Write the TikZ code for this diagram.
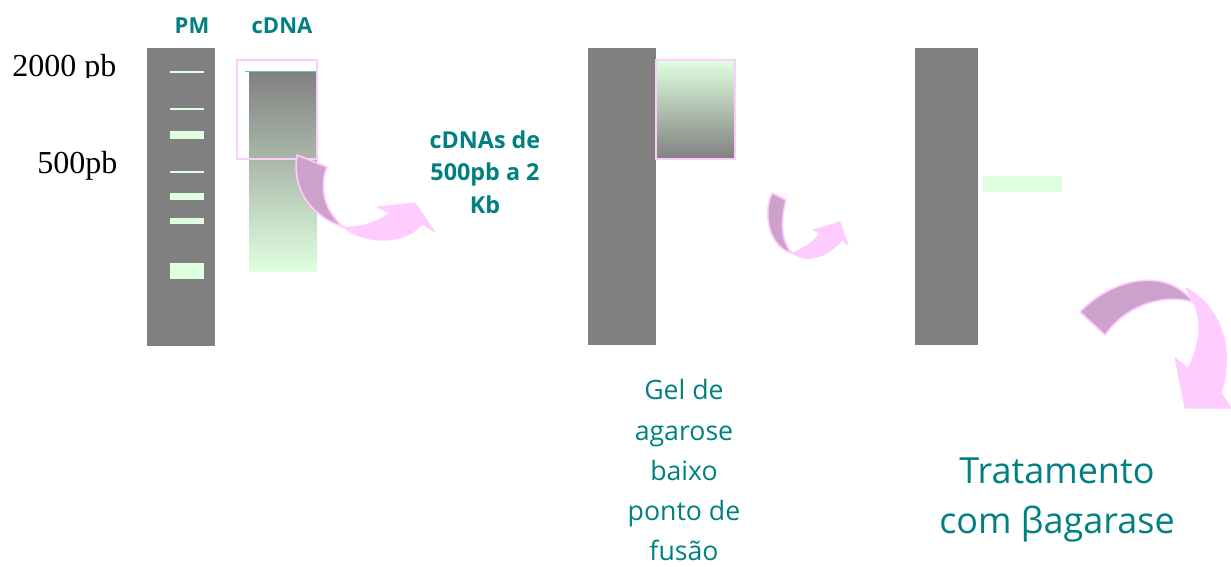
\documentclass[tikz,border=0pt]{standalone}
\usepackage{fontspec}
\setmainfont{Open Sans}
\newfontfamily\timesfont{Liberation Serif}
\definecolor{gelgray}{HTML}{808080}
\definecolor{bandgreen}{HTML}{E0FFE0}
\definecolor{ribbonpink}{HTML}{FFCCFF}
\definecolor{ribbonmauve}{HTML}{CCA2CC}
\definecolor{labelteal}{HTML}{008080}
\tikzset{
  lane/.style={fill=gelgray, draw=none},
  band/.style={fill=bandgreen, draw=none},
  bandline/.style={draw=bandgreen, line width=1.4pt},
  cutbox/.style={draw=ribbonpink, line width=1.5pt},
  ribbonfront/.style={fill=ribbonpink, draw=ribbonpink, line width=0.75pt, line join=round},
  ribbonback/.style={fill=ribbonmauve, draw=ribbonpink, line width=1.2pt, line join=round},
  lanelabel/.style={font=\bfseries\fontsize{16.5}{20}\selectfont, text=labelteal, anchor=base, inner sep=0pt},
  sizelabel/.style={font=\timesfont\fontsize{24}{28}\selectfont, text=black, anchor=base west, inner sep=0pt},
  steptext/.style={font=\bfseries\fontsize{17.5}{21}\selectfont, text=labelteal, anchor=base, inner sep=0pt},
  geltext/.style={font=\fontsize{20}{24}\selectfont, text=labelteal, anchor=base, inner sep=0pt},
  bigtext/.style={font=\fontsize{27}{33}\selectfont, text=labelteal, anchor=base, inner sep=0pt},
}
\begin{document}
\begin{tikzpicture}[x=0.75pt,y=-0.75pt]
\useasboundingbox (0,0) rectangle (1231,567);

% ---- first gel: marker lane and cDNA lane ----
\node[lanelabel] (pm) at (192,34) {PM};
\node[lanelabel] (cdna) at (282,34) {cDNA};

\begin{scope}
  \clip (0,40) rectangle (140,78);
  \node[sizelabel] (s2000) at (12,77) {2000 pb};
\end{scope}
\node[sizelabel] (s500) at (37,173) {500pb};

\fill[lane] (147,48) rectangle (215,346);
% marker bands
\draw[bandline] (170,72) -- (204,72);
\draw[bandline] (170,109) -- (204,109);
\fill[band] (170,131) rectangle (204,139);
\draw[bandline] (170,172) -- (204,172);
\fill[band] (170,193) rectangle (204,200);
\fill[band] (170,218) rectangle (204,224);
\fill[band] (170,263) rectangle (204,279);

% cDNA smear
\shade[top color=gelgray, bottom color=bandgreen] (249,72) rectangle (317,271);
\draw[labelteal!55, line width=0.75pt] (245,72) -- (317,72);
% excised region
\draw[cutbox] (237,60) rectangle (317,159);

% curved arrow 1
\path[ribbonfront] (343,227) .. controls (360,228) and (378,222) .. (390,213)
  -- (377,207) -- (415,203) -- (435,232) -- (422,224)
  .. controls (405,245) and (365,245) .. (343,227) -- cycle;
\path[ribbonback] (297,155) -- (327,167) .. controls (320,185) and (322,208) .. (343,227)
  .. controls (310,215) and (292,190) .. (297,155) -- cycle;

\node[steptext] (t1a) at (485,148) {cDNAs de};
\node[steptext] (t1b) at (485,180) {500pb a 2};
\node[steptext] (t1c) at (485,213) {Kb};

% ---- second gel: excised block ----
\fill[lane] (588,48) rectangle (656,345);
\shade[top color=bandgreen, bottom color=gelgray] (656,60) rectangle (735,159);
\draw[cutbox] (656,60) rectangle (735,159);

% curved arrow 2
\path[ribbonfront] (792,253) .. controls (800,250) and (812,245) .. (820,233)
  -- (813,230) -- (840,222) -- (848,245) -- (842,240)
  .. controls (830,255) and (808,265) .. (792,253) -- cycle;
\path[ribbonback] (772,193) -- (786,200) .. controls (781,220) and (780,240) .. (792,253)
  .. controls (770,248) and (762,215) .. (772,193) -- cycle;

\node[geltext] (g1) at (684,399) {Gel de};
\node[geltext] (g2) at (684,440) {agarose};
\node[geltext] (g3) at (684,480) {baixo};
\node[geltext] (g4) at (684,520) {ponto de};
\node[geltext] (g5) at (684,560) {fusão};

% ---- third gel: recovered band ----
\fill[lane] (915,48) rectangle (978,345);
\fill[band] (983,176) rectangle (1062,192);

% curved arrow 3
\path[ribbonfront] (1186,288) .. controls (1218,305) and (1236,345) .. (1221,393)
  -- (1231,408) -- (1185,408) -- (1175,358) -- (1188,368)
  .. controls (1200,345) and (1203,320) .. (1193,302) -- cycle;
\path[ribbonback] (1080,312) .. controls (1110,280) and (1165,265) .. (1193,302)
  .. controls (1170,295) and (1130,300) .. (1105,335) -- cycle;

\node[bigtext] (b1) at (1057,483) {Tratamento};
\node[bigtext] (b2) at (1057,533) {com βagarase};
\end{tikzpicture}
\end{document}
